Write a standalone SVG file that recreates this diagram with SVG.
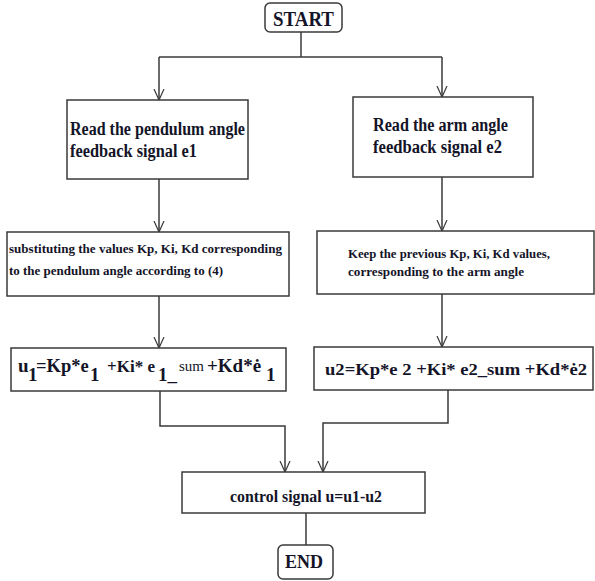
<svg xmlns="http://www.w3.org/2000/svg" width="595" height="581" viewBox="0 0 595 581">
<style>
.box{fill:#fff;stroke:#3a3a3a;stroke-width:1.5}
.t{font-family:"Liberation Serif","Times New Roman",serif;font-weight:bold;fill:#141428}
.f{font-family:"Liberation Serif","Times New Roman",serif;font-weight:bold;fill:#141428;font-size:19px}
.ln{fill:none;stroke:#3a3a3a;stroke-width:1.5}
</style>
<defs>
<marker id="ar" viewBox="0 0 12 12" refX="11" refY="6" markerWidth="12" markerHeight="12" markerUnits="userSpaceOnUse" orient="auto">
<path d="M0,1 L11,6 L0,11" fill="none" stroke="#3a3a3a" stroke-width="1.2"/>
</marker>
</defs>
<rect width="595" height="581" fill="#fff"/>
<g id="connectors">
<path class="ln" d="M301,32 V57"/>
<path class="ln" d="M159,57 H442"/>
<path class="ln" d="M159,57 V100" marker-end="url(#ar)"/>
<path class="ln" d="M442,57 V97" marker-end="url(#ar)"/>
<path class="ln" d="M159,179 V232" marker-end="url(#ar)"/>
<path class="ln" d="M442,177 V231" marker-end="url(#ar)"/>
<path class="ln" d="M159,296 V348" marker-end="url(#ar)"/>
<path class="ln" d="M442,294 V347" marker-end="url(#ar)"/>
<path class="ln" d="M160,391 V426 H285 V472" marker-end="url(#ar)"/>
<path class="ln" d="M448,390 V423 H323 V472" marker-end="url(#ar)"/>
<path class="ln" d="M306,513 V545"/>
</g>
<g id="start">
<rect class="box" x="265" y="3" width="77" height="29" rx="5"/>
<text class="t" x="273" y="26" font-size="20" textLength="61" lengthAdjust="spacingAndGlyphs">START</text>
</g>
<g id="read-pendulum">
<rect class="box" x="67" y="100" width="181" height="79"/>
<text class="t" x="70" y="135" font-size="18" textLength="175" lengthAdjust="spacingAndGlyphs">Read the pendulum angle</text>
<text class="t" x="70" y="157" font-size="18" textLength="127" lengthAdjust="spacingAndGlyphs">feedback signal e1</text>
</g>
<g id="read-arm">
<rect class="box" x="353" y="97" width="180" height="80"/>
<text class="t" x="373" y="131" font-size="18" textLength="135" lengthAdjust="spacingAndGlyphs">Read the arm angle</text>
<text class="t" x="373" y="153" font-size="18" textLength="129" lengthAdjust="spacingAndGlyphs">feedback signal e2</text>
</g>
<g id="substitute">
<rect class="box" x="7" y="232" width="282" height="64"/>
<text class="t" x="9" y="253" font-size="13" textLength="273" lengthAdjust="spacingAndGlyphs">substituting the values Kp, Ki, Kd corresponding</text>
<text class="t" x="9" y="275" font-size="13" textLength="214" lengthAdjust="spacingAndGlyphs">to the pendulum angle according to (4)</text>
</g>
<g id="keep">
<rect class="box" x="317" y="231" width="277" height="63"/>
<text class="t" x="348" y="258" font-size="12.5" textLength="202" lengthAdjust="spacingAndGlyphs">Keep the previous Kp, Ki, Kd values,</text>
<text class="t" x="348" y="276" font-size="12.5" textLength="176" lengthAdjust="spacingAndGlyphs">corresponding to the arm angle</text>
</g>
<g id="u1">
<rect class="box" x="11" y="348" width="275" height="43"/>
<text class="f" x="18" y="372">u</text>
<text class="f" x="28" y="381">1</text>
<text class="f" x="36" y="372" style="font-size:18.5px">=Kp*e</text>
<text class="f" x="90" y="381">1</text>
<text class="f" x="107" y="372" style="font-size:17px">+Ki* e</text>
<text class="f" x="158" y="381">1_</text>
<text class="f" x="179" y="371" style="font-weight:normal;font-size:15px">sum</text>
<text class="f" x="207" y="372">+Kd*ė</text>
<text class="f" x="266" y="381">1</text>
</g>
<g id="u2">
<rect class="box" x="314" y="347" width="279" height="43"/>
<text class="t" x="325" y="375" font-size="17" textLength="262" lengthAdjust="spacingAndGlyphs">u2=Kp*e 2 +Ki* e2_sum +Kd*ė2</text>
</g>
<g id="control">
<rect class="box" x="182" y="472" width="243" height="41"/>
<text class="t" x="230" y="502" font-size="16" textLength="152" lengthAdjust="spacingAndGlyphs">control signal u=u1-u2</text>
</g>
<g id="end">
<rect class="box" x="278" y="545" width="55" height="34" rx="5"/>
<text class="t" x="285" y="568" font-size="19" textLength="38" lengthAdjust="spacingAndGlyphs">END</text>
</g>
</svg>
